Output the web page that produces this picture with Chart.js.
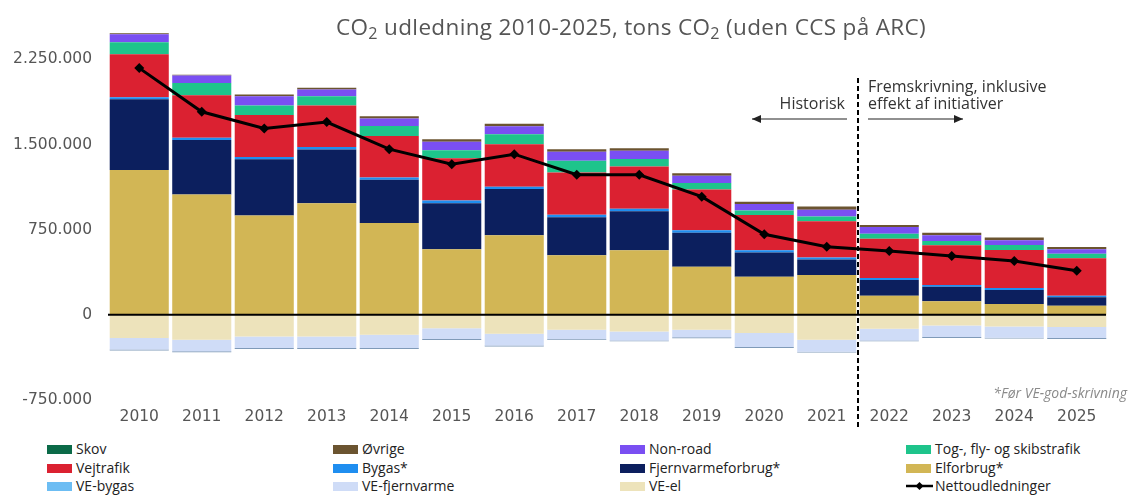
<!DOCTYPE html>
<html><head><meta charset="utf-8">
<script src="https://cdn.jsdelivr.net/npm/chart.js@4.4.0/dist/chart.umd.min.js"></script>
<style>
html,body{margin:0;padding:0;background:#fff;width:1130px;height:495px;overflow:hidden;font-family:"Open Sans",sans-serif;}
#wrap{position:relative;width:1130px;height:495px;}
#cw{position:absolute;left:0;top:0;width:1130px;height:430px;}
#title{position:absolute;left:631px;top:12px;transform:translateX(-50%);white-space:nowrap;font-size:22.5px;letter-spacing:0.35px;color:#555;line-height:30px;}
#title sub{font-size:0.72em;vertical-align:-0.25em;line-height:0;}
.ann{position:absolute;font-size:16px;color:#333;line-height:17px;white-space:nowrap;}
#foot{position:absolute;right:3px;top:383px;font-size:14px;font-style:italic;color:#8a8a8a;}
.lg{position:absolute;font-size:14px;color:#222;line-height:18px;white-space:nowrap;}
.sw{position:absolute;top:5px;width:25px;height:9px;}
.lgt{position:absolute;left:29px;top:0;}
</style></head>
<body><div id="wrap">
<div id="cw"><canvas id="c"></canvas></div>
<div id="title">CO<sub>2</sub> udledning 2010-2025, tons CO<sub>2</sub> (uden CCS på ARC)</div>
<div class="ann" style="right:285px;top:95px;">Historisk</div>
<div class="ann" style="left:868px;top:78px;">Fremskrivning, inklusive<br>effekt af initiativer</div>
<div id="foot">*Før VE-god-skrivning</div>
<div id="legend"></div>
</div>
<script>
const years = ['2010','2011','2012','2013','2014','2015','2016','2017','2018','2019','2020','2021','2022','2023','2024','2025'];
const elforbrug    = [1275000,1059000,875000,983000,808000,578000,700000,525000,569000,423000,335000,350000,169000,119000,96000,81000];
const fjernvarme   = [624000,481000,496000,473000,382000,405000,408000,335000,344000,301000,213000,137000,137000,129000,123000,73000];
const bygas        = [17500,20000,20000,23000,20000,23000,20000,21000,21000,20000,20000,18000,18000,15000,18000,15000];
const vejtrafik    = [379000,373000,368000,365000,365000,374000,374000,373000,373000,359000,312000,320000,347000,350000,333000,330000];
const tog          = [105000,108000,85000,82000,88000,70000,88000,102000,65000,59000,38000,41000,44000,38000,44000,40000];
const nonroad      = [70000,67000,82000,58000,67000,75000,70000,81000,73000,64000,59000,59000,59000,50000,44000,38000];
const ovrige       = [9000,6000,15000,15000,20000,21000,23000,21000,23000,20000,20000,29000,18000,23000,23000,20000];
const skov         = [0,0,0,0,0,0,0,0,0,0,0,0,0,0,0,0];
const veEl         = [-204000,-219000,-190000,-190000,-175000,-117000,-166000,-131000,-146000,-131000,-160000,-219000,-123000,-94000,-102000,-108000];
const veFjernvarme = [-102000,-102000,-102000,-102000,-117000,-96000,-105000,-81000,-79000,-67000,-123000,-105000,-102000,-102000,-99000,-96000];
const veBygas      = [-8000,-8000,-8000,-8000,-8000,-8000,-8000,-8000,-8000,-8000,-8000,-8000,-8000,-8000,-8000,-8000];
const netto        = [2173000,1788000,1642000,1698000,1459000,1327000,1415000,1234000,1234000,1041000,709000,600000,563000,519000,475000,388000];
const yTicks = [-750000,0,750000,1500000,2250000];

const fmt = v => (v<0?'-':'') + String(Math.abs(v)).replace(/\B(?=(\d{3})+(?!\d))/g,'.');

const barDs = (label,data,color) => ({type:'bar',label,data,backgroundColor:color,borderWidth:0,stack:'s',
  barPercentage:0.945,categoryPercentage:1.0,order:2});

const datasets = [
  barDs('Elforbrug*',elforbrug,'#d2b655'),
  barDs('Fjernvarmeforbrug*',fjernvarme,'#0c1f5e'),
  barDs('Bygas*',bygas,'#1f8ef0'),
  barDs('Vejtrafik',vejtrafik,'#db2131'),
  barDs('Tog-, fly- og skibstrafik',tog,'#1ec48b'),
  barDs('Non-road',nonroad,'#7a4ff2'),
  barDs('Øvrige',ovrige,'#6b5430'),
  barDs('Skov',skov,'#0b6a48'),
  barDs('VE-el',veEl,'#ede3bb'),
  barDs('VE-fjernvarme',veFjernvarme,'#cfdcf7'),
  barDs('VE-bygas',veBygas,'#7f9ab8'),
  {type:'line',label:'Nettoudledninger',data:netto,stack:'net',borderColor:'#000',borderWidth:3,
   pointStyle:'rectRot',pointRadius:5,pointBackgroundColor:'#000',pointBorderColor:'#000',pointBorderWidth:0,tension:0,order:0}
];

const overlay = {
  id:'overlay',
  afterDatasetsDraw(chart){
    const {ctx,chartArea,scales:{x,y}} = chart;
    ctx.save();
    const y0 = y.getPixelForValue(0);
    ctx.strokeStyle='#000';ctx.lineWidth=2;
    ctx.beginPath();ctx.moveTo(chartArea.left,y0);ctx.lineTo(chartArea.right-2,y0);ctx.stroke();
    const xd = (x.getPixelForValue(11)+x.getPixelForValue(12))/2;
    ctx.setLineDash([5,3]);ctx.lineWidth=2;
    ctx.beginPath();ctx.moveTo(xd,78);ctx.lineTo(xd,427);ctx.stroke();
    ctx.setLineDash([]);
    ctx.lineWidth=1.2;ctx.strokeStyle='#222';ctx.fillStyle='#222';
    const ay=119;
    const arrow=(x1,x2)=>{
      ctx.beginPath();ctx.moveTo(x1,ay);ctx.lineTo(x2,ay);ctx.stroke();
      const d = x2<x1?1:-1;
      ctx.beginPath();ctx.moveTo(x2,ay);ctx.lineTo(x2+d*9,ay-4);ctx.lineTo(x2+d*9,ay+4);ctx.closePath();ctx.fill();
    };
    arrow(xd-11,xd-106);
    arrow(xd+10,xd+105);
    ctx.restore();
  }
};

const tickFont = {family:'"DejaVu Sans"',size:15.5};
new Chart(document.getElementById('c'),{
  data:{labels:years,datasets},
  options:{
    responsive:true,maintainAspectRatio:false,animation:false,
    layout:{padding:{top:23,right:22,bottom:0,left:0}},
    plugins:{legend:{display:false},tooltip:{enabled:false},title:{display:false}},
    scales:{
      x:{stacked:true,grid:{display:false,drawTicks:false},border:{display:false},
         ticks:{color:'#555',font:tickFont,padding:8},
         afterFit(s){s.height=30;}},
      y:{stacked:true,min:-750000,max:2550000,
         afterBuildTicks(s){s.ticks=yTicks.map(v=>({value:v}));},
         grid:{display:false,drawTicks:false},border:{display:false},
         ticks:{color:'#555',font:tickFont,padding:16,callback:v=>fmt(v)},
         afterFit(s){s.width=108;}}
    }
  },
  plugins:[overlay]
});

const order = ['Skov','Øvrige','Non-road','Tog-, fly- og skibstrafik','Vejtrafik','Bygas*','Fjernvarmeforbrug*','Elforbrug*','VE-bygas','VE-fjernvarme','VE-el','Nettoudledninger'];
const colX = [47,333,620,906];
const rowY = [440,459,477];
const legendColors = {'VE-bygas':'#6cbdf3'};
const lg = document.getElementById('legend');
order.forEach((name,i)=>{
  const ds = datasets.find(d=>d.label===name);
  const el = document.createElement('div');
  el.className='lg';
  el.style.left=colX[i%4]+'px';el.style.top=rowY[Math.floor(i/4)]+'px';
  let sw;
  if(ds.type==='line'){
    sw = '<svg style="position:absolute;left:0;top:3px" width="27" height="12"><line x1="0" y1="6" x2="27" y2="6" stroke="#000" stroke-width="2.5"/><polygon points="13.5,2 17.5,6 13.5,10 9.5,6" fill="#000"/></svg>';
  } else {
    sw = '<div class="sw" style="background:'+(legendColors[name]||ds.backgroundColor)+'"></div>';
  }
  el.innerHTML = sw + '<span class="lgt">'+name+'</span>';
  lg.appendChild(el);
});
</script>
</body></html>
